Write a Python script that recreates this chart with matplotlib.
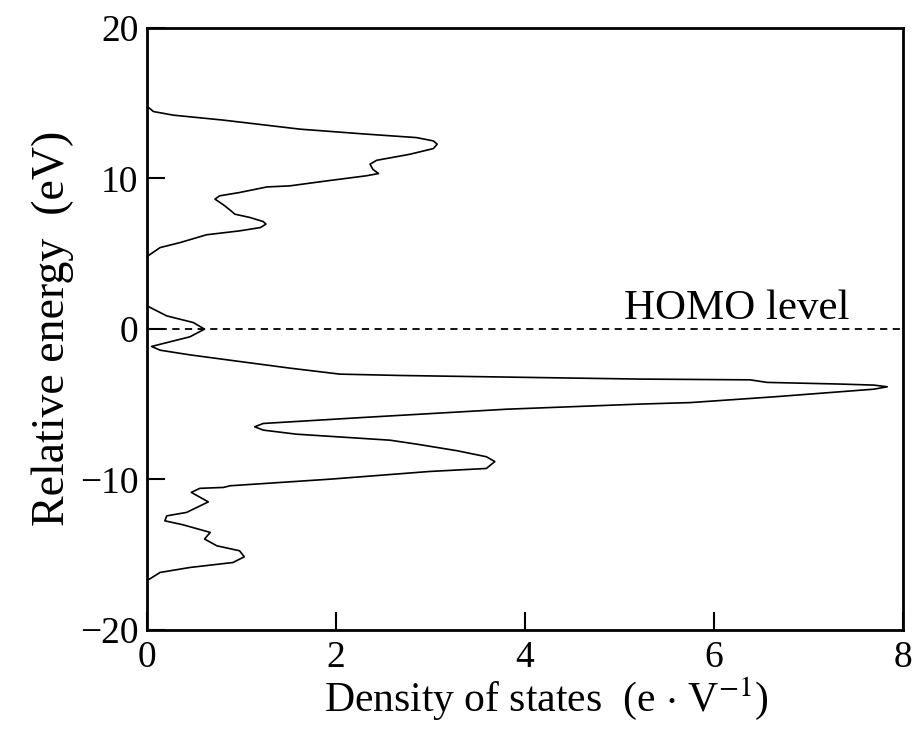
import matplotlib.pyplot as plt
import numpy as np

plt.rcParams['font.family'] = ['Liberation Serif', 'DejaVu Serif']
plt.rcParams['mathtext.fontset'] = 'stix'

# density of states (x) vs relative energy (y)
dos = [0, 0, 0.07, 0.28, 0.81, 1.62, 2.32, 2.85, 3.03, 3.07, 3.03, 2.78, 2.43, 2.36, 2.39,
       2.45, 2.32, 1.90, 1.51, 1.27, 0.98, 0.77, 0.72, 0.81, 0.89, 0.93, 1.09, 1.23, 1.26,
       1.20, 0.98, 0.63, 0.35, 0.14, 0,
       0, 0.21, 0.49, 0.61, 0.455, 0.17, 0.05, 0.14, 0.455, 0.98, 1.51, 2.04, 2.68,
       5.22, 6.38, 6.56, 7.33, 7.69, 7.83, 7.69, 6.63, 5.75, 5.22, 3.81, 2.29, 1.23, 1.14,
       1.23, 1.58, 2.57, 2.85, 3.28, 3.59, 3.68, 3.59, 2.99, 1.94, 0.88, 0.81, 0.56, 0.47,
       0.65, 0.42, 0.21, 0.19, 0.38, 0.67, 0.61, 0.74, 0.98, 1.03, 0.91, 0.455, 0.14, 0, 0]
energy = [20, 14.8, 14.44, 14.2, 13.87, 13.27, 12.94, 12.71, 12.49, 12.27, 11.98, 11.6, 11.2, 10.94, 10.6,
          10.32, 10.17, 9.83, 9.5, 9.43, 9.06, 8.84, 8.62, 8.24, 7.84, 7.62, 7.4, 7.13, 6.96,
          6.73, 6.51, 6.25, 5.73, 5.4, 4.8,
          1.53, 0.86, 0.42, -0.02, -0.53, -0.98, -1.17, -1.42, -1.73, -2.17, -2.61, -3.01, -3.1,
          -3.34, -3.39, -3.56, -3.67, -3.74, -3.85, -4.01, -4.52, -4.9, -5.0, -5.34, -5.89, -6.29, -6.51,
          -6.73, -7.0, -7.4, -7.66, -8.1, -8.5, -8.82, -9.28, -9.48, -9.99, -10.43, -10.54, -10.6, -10.87,
          -11.5, -12.2, -12.43, -12.76, -13.02, -13.53, -13.97, -14.42, -14.75, -15.15, -15.53, -15.86, -16.19, -16.74, -20]

homo = 0.0

fig = plt.figure(figsize=(9.18, 7.34), dpi=100)
ax = fig.add_axes([0.160, 0.142, 0.824, 0.820])

ax.plot(dos, energy, color='black', lw=1.2)
ax.axhline(homo, color='black', lw=1.3, ls=(0, (4, 3)))
ax.text(6.24, 1.35, 'HOMO level', fontsize=31, ha='center', va='center')

ax.set_xlim(0, 8)
ax.set_ylim(-20, 20)
ax.set_xticks([0, 2, 4, 6, 8])
ax.set_yticks([-20, -10, 0, 10, 20])
ax.set_yticklabels(['\u221220', '\u221210', '0', '10', '20'])
ax.tick_params(direction='in', length=13, width=1.5, labelsize=27, pad=6)
ax.tick_params(axis='x', pad=8)
for s in ax.spines.values():
    s.set_linewidth(2)

ax.set_xlabel(r'Density of states  (e $\cdot$ V$^{-1}$)', fontsize=30)
ax.xaxis.set_label_coords(0.528, -0.076)
ax.set_ylabel('Relative energy  (eV)', fontsize=33, labelpad=4)

plt.savefig('out.png', dpi=100)
